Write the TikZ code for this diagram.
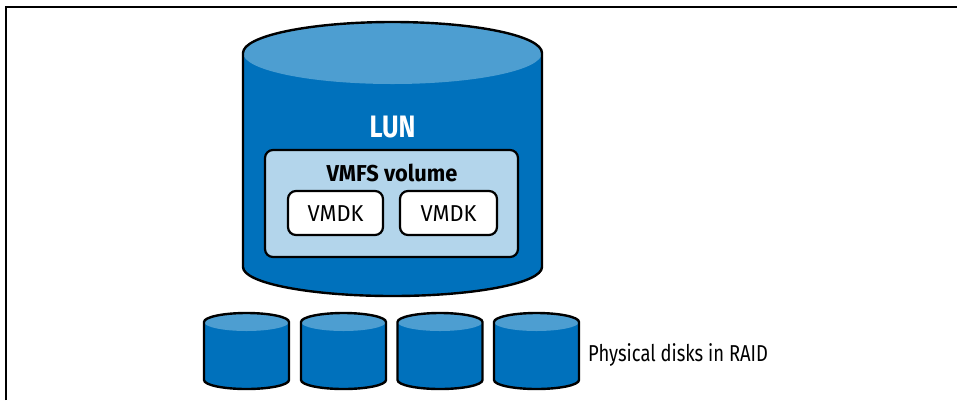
\documentclass[tikz,border=0pt]{standalone}
\usepackage{fontspec}
\setmainfont[FakeStretch=0.80]{Fira Sans}
\newfontfamily\wideff[FakeStretch=0.95]{Fira Sans}
\newfontfamily\lunff[FakeStretch=0.82]{Fira Sans}
\definecolor{dblue}{RGB}{0,113,188}
\definecolor{lblue}{RGB}{77,158,209}
\definecolor{vblue}{RGB}{179,213,235}
\begin{document}
\begin{tikzpicture}[x=1pt,y=1pt,
  outline/.style={draw=black,line width=2.4pt,line join=round},
  box/.style={outline,line width=2.2pt,rounded corners=8pt},
  lbl/.style={inner sep=0pt,anchor=base,font=\fontsize{23}{26}\selectfont}]
\useasboundingbox (0,0) rectangle (957,-400);
% frame
\draw[line width=1.5pt] (6,-400) -- (6,-7) -- (957,-7);
% big cylinder (LUN)
\fill[dblue] (243,-53) -- (243,-267) arc[start angle=180,end angle=360,x radius=149.5,y radius=29] -- (542,-53) arc[start angle=0,end angle=180,x radius=149.5,y radius=31] -- cycle;
\fill[lblue] (392.5,-53) ellipse[x radius=149.5,y radius=31];
\draw[outline] (243,-53) -- (243,-267) arc[start angle=180,end angle=360,x radius=149.5,y radius=29] -- (542,-53) arc[start angle=0,end angle=180,x radius=149.5,y radius=31] -- cycle;
\node[lbl,text=white,font=\lunff\fontsize{31}{34}\selectfont\bfseries] (lun) at (392.5,-137) {LUN};
% VMFS volume
\draw[box,fill=vblue] (265,-150) rectangle (518,-257);
\node[lbl,font=\wideff\fontsize{23}{26}\selectfont\bfseries] (vmfs) at (392,-181.5) {VMFS volume};
\draw[box,fill=white] (288,-191) rectangle (383,-235);
\draw[box,fill=white] (400,-191) rectangle (497,-235);
\node[lbl,font=\wideff\fontsize{23}{26}\selectfont] (vmdk1) at (335.5,-221.5) {VMDK};
\node[lbl,font=\wideff\fontsize{23}{26}\selectfont] (vmdk2) at (448.5,-221.5) {VMDK};
% small disks
\foreach \cx/\nm in {246.5/d1,343.5/d2,440/d3,536.5/d4}{
  \fill[dblue] (\cx-42.5,-322) -- (\cx-42.5,-380) arc[start angle=180,end angle=360,x radius=42.5,y radius=9] -- (\cx+42.5,-322) arc[start angle=0,end angle=180,x radius=42.5,y radius=9] -- cycle;
  \fill[lblue] (\cx,-322) ellipse[x radius=42.5,y radius=9];
  \draw[outline] (\cx-42.5,-322) -- (\cx-42.5,-380) arc[start angle=180,end angle=360,x radius=42.5,y radius=9] -- (\cx+42.5,-322) arc[start angle=0,end angle=180,x radius=42.5,y radius=9] -- cycle;
  \coordinate (\nm) at (\cx,-351);
}
\node[lbl,anchor=base west] (raid) at (588,-361) {Physical disks in RAID};
\end{tikzpicture}
\end{document}
